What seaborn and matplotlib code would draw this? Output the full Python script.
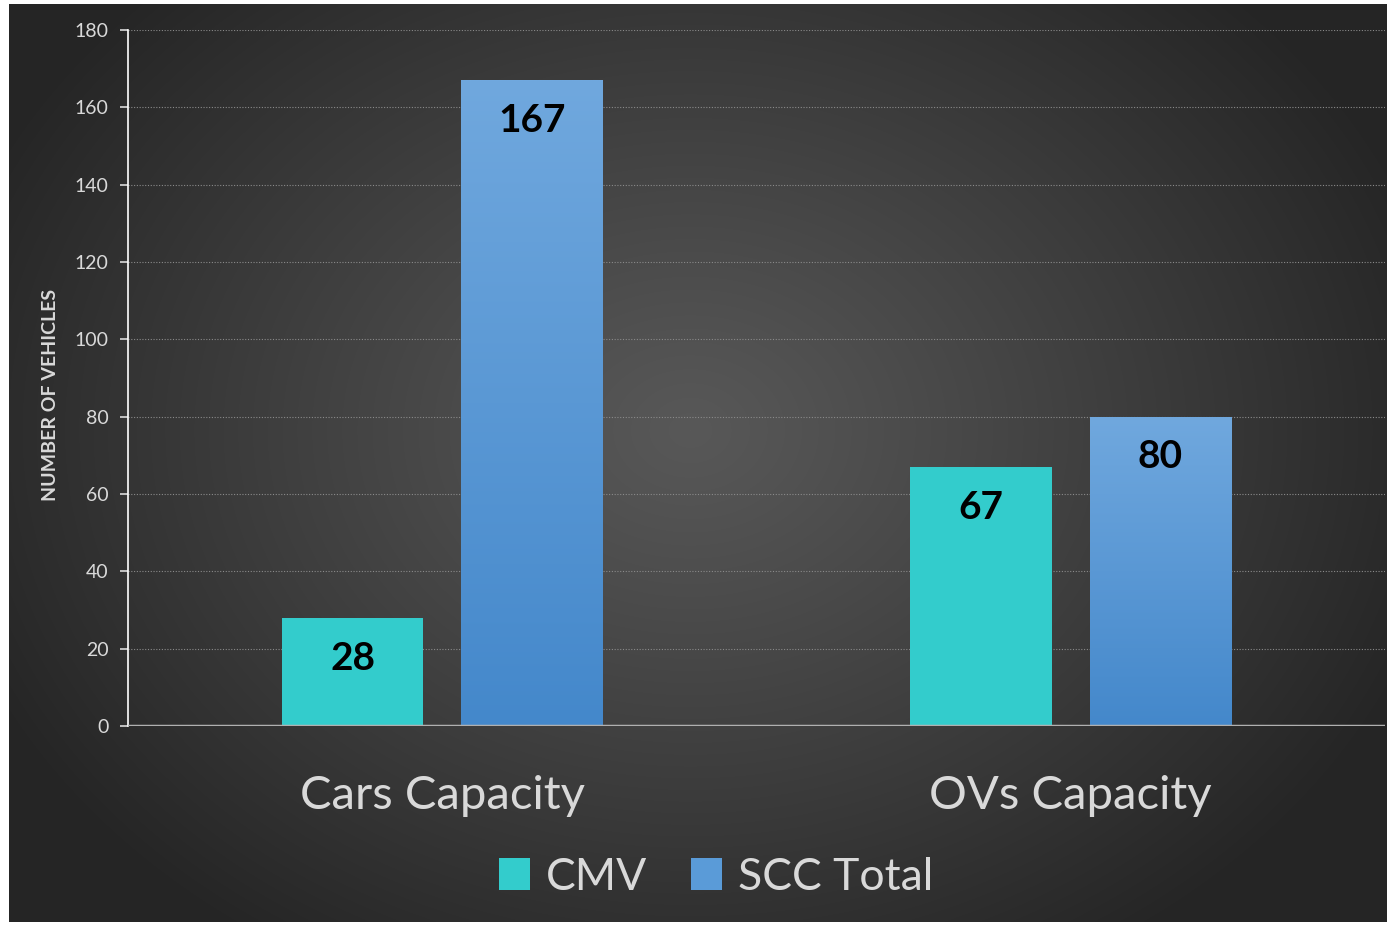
import numpy as np
import pandas as pd
import matplotlib
matplotlib.use("Agg")
import matplotlib.pyplot as plt
import seaborn as sns
from matplotlib.patches import Patch

categories = ["Cars Capacity", "OVs Capacity"]
series = ["CMV", "SCC Total"]
cmv_values = [28, 67]
scc_values = [167, 80]
y_ticks = [0, 20, 40, 60, 80, 100, 120, 140, 160, 180]
y_label = "NUMBER OF VEHICLES"

teal = "#33CCCC"
blue = "#5A9BD8"

df = pd.DataFrame({
    "category": categories * 2,
    "series": [series[0]] * len(categories) + [series[1]] * len(categories),
    "value": cmv_values + scc_values,
})

sns.set_style("white")
plt.rcParams["font.family"] = ["Lato", "DejaVu Sans"]

W, H = 1391, 926
fig = plt.figure(figsize=(W / 100, H / 100), dpi=100, facecolor="white")

# background radial gradient
bg = fig.add_axes([9 / W, 4 / H, 1378 / W, 918 / H], zorder=-10)
bx0, by0 = 9, 4
yy, xx = np.mgrid[0:918, 0:1378]
cx, cy = 690 - bx0, 430 - by0
d = np.sqrt(((xx - cx) / 780.0) ** 2 + ((yy - cy) / 620.0) ** 2)
d = np.clip(d, 0, 1)
light, dark = 0x58, 0x25
val = (light + (dark - light) * d ** 1.1) / 255.0
img = np.dstack([val, val, val])
bg.imshow(img, aspect="auto", extent=[0, 1, 0, 1], interpolation="bilinear")
bg.set_axis_off()

ax = fig.add_axes([128 / W, 1 - 726 / H, (1385 - 128) / W, (726 - 30) / H])
ax.set_facecolor("none")

sns.barplot(data=df, x="category", y="value", hue="series",
            palette=[teal, blue], width=0.57, gap=0.21,
            saturation=1, ax=ax, legend=False, zorder=3)

ax.set_xlim(-0.5, 1.5)
ax.set_ylim(0, 180)
ax.set_yticks(y_ticks)
ax.set_yticklabels([str(t) for t in y_ticks], fontsize=14, color="#d9d9d9")

# gradient on SCC bars
grad = np.linspace(0, 1, 256).reshape(-1, 1)
top_c = np.array([0x70, 0xA8, 0xDE]) / 255.0
bot_c = np.array([0x44, 0x88, 0xCB]) / 255.0
gimg = top_c[None, None, :] * (1 - grad[:, :, None]) + bot_c[None, None, :] * grad[:, :, None]
n = len(categories)
for i, p in enumerate(ax.patches):
    p.set_edgecolor("none")
    if i >= n:
        x0, y0 = p.get_x(), p.get_y()
        w, h = p.get_width(), p.get_height()
        im = ax.imshow(gimg, extent=[x0, x0 + w, y0, y0 + h], aspect="auto",
                       zorder=3.5, interpolation="bilinear")
        im.set_clip_path(p)
ax.set_xlim(-0.5, 1.5)
ax.set_ylim(0, 180)

# data labels
for p in ax.patches:
    h = p.get_height()
    ax.annotate(f"{int(round(h))}", (p.get_x() + p.get_width() / 2, h),
                xytext=(0, -29), textcoords="offset points",
                ha="center", va="center", fontsize=28, fontweight="bold",
                color="black", zorder=5)

# grid
for t in y_ticks[1:]:
    ax.axhline(t, color="#8a8a8a", lw=0.8, ls=(0, (1, 1.5)), zorder=1)
ax.axhline(0, color="#b0b0b0", lw=2.5, zorder=4)

for s in ["top", "right", "bottom"]:
    ax.spines[s].set_visible(False)
ax.spines["left"].set_color("#ffffff")
ax.spines["left"].set_linewidth(1.2)
ax.tick_params(axis="y", length=6, width=1.2, color="#d9d9d9", pad=8, left=True)
ax.tick_params(axis="x", length=0, pad=35)
ax.set_xlabel("")
ax.set_ylabel(y_label, fontsize=14, fontweight="bold", color="#d9d9d9")
ax.yaxis.set_label_coords(-0.0549, 0.4756)
for lab in ax.get_xticklabels():
    lab.set_fontsize(34)
    lab.set_color("#d9d9d9")

handles = [Patch(facecolor=teal, edgecolor="none"), Patch(facecolor=blue, edgecolor="none")]
fig.legend(handles, series, loc="center", bbox_to_anchor=(716 / W, 1 - 877 / H),
           ncol=2, frameon=False, fontsize=32, labelcolor="#d9d9d9",
           handlelength=0.7, handleheight=0.7, handletextpad=0.35, columnspacing=1.0)

fig.savefig("out.png", dpi=100, facecolor="white")
